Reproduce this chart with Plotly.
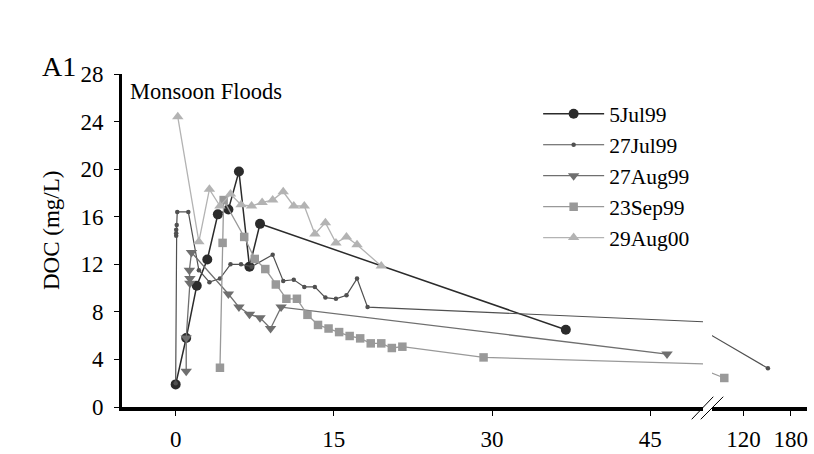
import plotly.graph_objects as go

# ---- data (days since event, DOC mg/L) ----
names = ["5Jul99", "27Jul99", "27Aug99", "23Sep99", "29Aug00"]

days_5jul99 = [0, 1, 2, 3, 4, 5, 6, 7, 8, 37]
doc_5jul99 = [1.9, 5.8, 10.2, 12.4, 16.2, 16.6, 19.8, 11.8, 15.4, 6.5]

days_27jul99 = [0, 0.05, 0.05, 0.05, 0.1, 0.15, 1.2, 2.2, 3.2, 4.2, 5.2, 6.2, 7.2, 9.2,
                10.2, 11.2, 12.2, 13.2, 14.2, 15.2, 16.2, 17.2, 18.2, 151]
doc_27jul99 = [2.0, 14.4, 14.6, 14.9, 15.3, 16.4, 16.4, 11.5, 10.5, 10.8, 12.0, 12.0, 11.8, 12.8,
               10.6, 10.7, 10.1, 10.1, 9.2, 9.1, 9.4, 10.8, 8.4, 3.25]

days_27aug99 = [1.0, 1.0, 1.35, 1.35, 1.3, 1.5, 5, 6, 7, 8, 9, 10, 46.6]
doc_27aug99 = [3.0, 5.8, 10.4, 10.8, 11.5, 13.0, 9.5, 8.4, 7.8, 7.5, 6.6, 8.4, 4.45]

days_23sep99 = [4.2, 4.45, 4.55, 6.5, 7.5, 8.5, 9.5, 10.5, 11.5, 12.5, 13.5, 14.5, 15.5,
                16.5, 17.5, 18.5, 19.5, 20.5, 21.5, 29.2, 95.6]
doc_23sep99 = [3.3, 13.8, 17.4, 14.3, 12.45, 11.6, 10.3, 9.1, 9.1, 7.75, 6.9, 6.6, 6.3,
               5.97, 5.77, 5.35, 5.35, 4.96, 5.07, 4.17, 2.44]

days_29aug00 = [0.2, 2.2, 3.2, 4.2, 5.2, 6.2, 7.2, 8.2, 9.2, 10.2, 11.2, 12.2, 13.2, 14.2,
                15.2, 16.2, 17.2, 19.5]
doc_29aug00 = [24.4, 13.9, 18.3, 16.9, 17.9, 17.0, 16.9, 17.2, 17.4, 18.1, 16.9, 16.9, 14.55,
               15.5, 13.8, 14.3, 13.65, 11.85]

x_ticks_left = [0, 15, 30, 45]
x_ticks_right = [120, 180]
y_ticks = [0, 4, 8, 12, 16, 20, 24, 28]

all_days = [days_5jul99, days_27jul99, days_27aug99, days_23sep99, days_29aug00]
all_doc = [doc_5jul99, doc_27jul99, doc_27aug99, doc_23sep99, doc_29aug00]

# ---- styles ----
colors = ["#2b2b2b", "#505050", "#6f6f6f", "#999999", "#b3b3b3"]
symbols = ["circle", "circle", "triangle-down", "square", "triangle-up"]
msizes = [10, 4.5, 10, 8.5, 10]
lwidths = [1.5, 1.2, 1.3, 1.3, 1.3]

FONT = "Times New Roman, Liberation Serif, serif"

fig = go.Figure()
for xa, show in (("x", True), ("x2", False)):
    for i, nm in enumerate(names):
        fig.add_trace(go.Scatter(
            x=all_days[i], y=all_doc[i], name=nm, mode="lines+markers",
            xaxis=xa, yaxis="y", showlegend=show, legendgroup=nm,
            line=dict(color=colors[i], width=lwidths[i]),
            marker=dict(symbol=symbols[i], size=msizes[i], color=colors[i]),
        ))

axis_common = dict(showline=True, linecolor="black", ticks="outside", ticklen=5,
                   tickwidth=1, tickcolor="black", showgrid=False, zeroline=False,
                   automargin=False,
                   tickfont=dict(family=FONT, size=23, color="black"))

fig.update_layout(
    width=814, height=454,
    margin=dict(l=122, r=7, t=74, b=47),
    paper_bgcolor="white", plot_bgcolor="white",
    font=dict(family=FONT, color="black"),
    xaxis=dict(domain=[0, 0.848], range=[-5.09, 50], tickvals=x_ticks_left,
               linewidth=4, anchor="y", ticklabelstandoff=3, **axis_common),
    xaxis2=dict(domain=[0.8613, 1], range=[80, 200.6], tickvals=x_ticks_right,
                linewidth=4, anchor="y", ticklabelstandoff=3, **axis_common),
    yaxis=dict(range=[0, 28], tickvals=y_ticks, linewidth=3, anchor="x",
               ticklabelstandoff=6, **axis_common),
    legend=dict(x=0.6075, y=0.942, xanchor="left", yanchor="top",
                font=dict(family=FONT, size=21.5, color="black"),
                itemwidth=61, tracegroupgap=0, bgcolor="rgba(0,0,0,0)"),
    showlegend=True,
)

fig.add_annotation(text="A1", xref="paper", yref="paper", x=-0.1197, y=1.024,
                   xanchor="left", yanchor="middle", showarrow=False,
                   font=dict(family=FONT, size=28, color="black"))
fig.add_annotation(text="Monsoon Floods", xref="paper", yref="paper", x=0.0088, y=0.946,
                   xanchor="left", yanchor="middle", showarrow=False,
                   font=dict(family=FONT, size=22.5, color="black"))
fig.add_annotation(text="DOC (mg/L)", xref="paper", yref="paper", x=-0.1036, y=0.5285,
                   xanchor="center", yanchor="middle", showarrow=False, textangle=-90,
                   font=dict(family=FONT, size=23, color="black"))

# axis-break marks
for x0, x1 in ((0.8317, 0.8632), (0.8449, 0.8777)):
    fig.add_shape(type="line", xref="paper", yref="paper", x0=x0, y0=-0.0369, x1=x1, y1=0.0309,
                  line=dict(color="black", width=1))

fig.write_html("out.html")
